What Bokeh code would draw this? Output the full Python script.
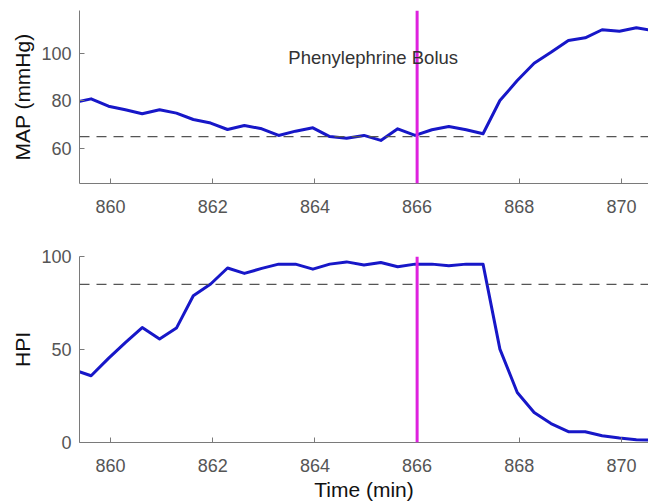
from bokeh.plotting import figure
from bokeh.models import Span, Range1d, FixedTicker, Label
from bokeh.layouts import column
from bokeh.embed import file_html
from bokeh.resources import INLINE

# ---- data ----
time_min = [859.29, 859.62, 859.96, 860.29, 860.62, 860.96, 861.29, 861.62, 861.96,
            862.29, 862.62, 862.96, 863.29, 863.62, 863.96, 864.29, 864.62, 864.96,
            865.29, 865.62, 865.96, 866.29, 866.62, 866.96, 867.29, 867.62, 867.96,
            868.29, 868.62, 868.96, 869.29, 869.62, 869.96, 870.29, 870.62]
map_mmhg = [79.3, 80.9, 77.8, 76.3, 74.6, 76.3, 74.9, 72.2, 70.7,
            68.0, 69.7, 68.3, 65.5, 67.3, 68.7, 65.0, 64.3, 65.5,
            63.4, 68.3, 65.5, 67.9, 69.3, 67.9, 66.2, 80.2, 88.6,
            95.9, 100.5, 105.5, 106.6, 110.0, 109.4, 110.8, 109.6]
hpi = [39.0, 35.9, 45.2, 53.7, 61.8, 55.6, 61.5, 78.9, 85.2,
       93.8, 90.9, 93.6, 95.9, 95.9, 93.2, 95.9, 97.1, 95.4,
       96.8, 94.5, 95.9, 95.9, 95.0, 95.9, 95.9, 50.2, 26.9,
       16.1, 10.2, 5.8, 5.8, 3.6, 2.4, 1.5, 1.2]
x_ticks = [860, 862, 864, 866, 868, 870]
map_ticks = [60, 80, 100, 120]
hpi_ticks = [0, 50, 100]
map_threshold = 65
hpi_threshold = 85
bolus_time = 866
bolus_text = "Phenylephrine Bolus"

FONT = "Liberation Sans"
BLUE = "#1717C8"
MAGENTA = "#DE22DE"
AXIS_GRAY = "#7a7a7a"
X_RANGE = (859.393, 870.528)


def style(p, ylabel, yticks, xlabel=None):
    p.outline_line_color = None
    p.grid.grid_line_color = None
    p.background_fill_color = "white"
    p.border_fill_color = "white"
    for ax in (p.xaxis[0], p.yaxis[0]):
        ax.axis_line_color = AXIS_GRAY
        ax.axis_line_width = 1
        ax.major_tick_line_color = AXIS_GRAY
        ax.major_tick_in = 5
        ax.major_tick_out = 0
        ax.minor_tick_line_color = None
        ax.major_label_text_font = FONT
        ax.major_label_text_font_size = "18px"
        ax.major_label_text_color = "#555555"
        ax.axis_label_text_font = FONT
        ax.axis_label_text_font_size = "21px"
        ax.axis_label_text_font_style = "normal"
        ax.axis_label_text_color = "#111111"
    p.xaxis[0].ticker = FixedTicker(ticks=x_ticks)
    p.yaxis[0].ticker = FixedTicker(ticks=yticks)
    p.xaxis[0].major_label_standoff = 16
    p.yaxis[0].major_label_standoff = 8
    p.yaxis[0].axis_label = ylabel
    p.yaxis[0].axis_label_standoff = 4
    if xlabel:
        p.xaxis[0].axis_label = xlabel
        p.xaxis[0].axis_label_standoff = 3


# ---- top panel: MAP ----
p1 = figure(width=648, height=236, output_backend="svg", toolbar_location=None,
            x_range=Range1d(*X_RANGE), y_range=Range1d(45.26, 118.1),
            min_border_left=79, min_border_right=0, min_border_top=10,
            min_border_bottom=53)
p1.add_layout(Span(location=map_threshold, dimension="width", line_color="#555555",
                   line_width=1.2, line_dash="10 7"))
p1.line(time_min, map_mmhg, line_color=BLUE, line_width=3, line_join="round")
p1.add_layout(Span(location=bolus_time, dimension="height", line_color=MAGENTA,
                   line_width=3))
p1.add_layout(Label(x=863.48, y=98.3, text=bolus_text, text_font=FONT,
                    text_font_size="18.5px", text_color="#333333",
                    text_baseline="alphabetic", text_align="left"))
style(p1, "MAP (mmHg)", map_ticks)

# ---- bottom panel: HPI ----
p2 = figure(width=648, height=267, output_backend="svg", toolbar_location=None,
            x_range=Range1d(*X_RANGE), y_range=Range1d(0, 100),
            min_border_left=79, min_border_right=0, min_border_top=20,
            min_border_bottom=61)
p2.add_layout(Span(location=hpi_threshold, dimension="width", line_color="#555555",
                   line_width=1.2, line_dash="10 7"))
p2.line(time_min, hpi, line_color=BLUE, line_width=3, line_join="round")
p2.add_layout(Span(location=bolus_time, dimension="height", line_color=MAGENTA,
                   line_width=3))
style(p2, "HPI", hpi_ticks, xlabel="Time (min)")

layout = column(p1, p2, spacing=0)
open("out.html", "w").write(file_html(layout, INLINE))
